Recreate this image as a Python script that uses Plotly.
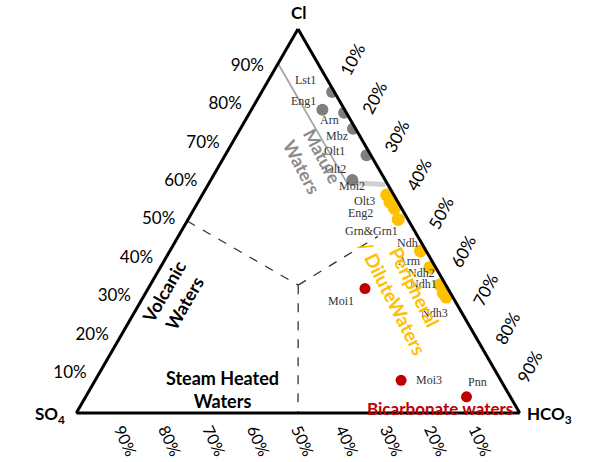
import math
import plotly.graph_objects as go

# ---- Samples (percent of Cl + SO4 + HCO3) ----
mature_names = ["Lst1", "Eng1", "Arn", "Mbz", "Olt1", "Olt2"]
mature_cl = [83.6, 79.0, 78.2, 74.0, 67.1, 60.7]
mature_so4 = [0.5, 5.0, 0.5, 0.6, 1.0, 7.4]
mature_hco3 = [15.9, 16.0, 21.3, 25.4, 31.9, 31.9]

peri_names = ["Moi2", "Olt3", "Eng2", "Grn&Grn1", "Ndh", "Arm", "Ndh2", "Ndh1", "Ndh3"]
peri_cl = [56.8, 54.9, 53.3, 50.4, 42.2, 37.9, 33.4, 31.3, 30.2]
peri_so4 = [1.6, 1.8, 1.6, 2.2, 1.3, 1.3, 1.3, 1.6, 1.5]
peri_hco3 = [41.6, 43.3, 45.1, 47.4, 56.5, 60.8, 65.3, 67.1, 68.3]

bicarb_names = ["Moi1", "Moi3", "Pnn"]
bicarb_cl = [32.4, 8.5, 4.2]
bicarb_so4 = [18.7, 22.5, 9.9]
bicarb_hco3 = [48.9, 69.0, 85.9]

# ---- Field boundaries (Cl, SO4, HCO3) ----
centroid = (33.3, 33.3, 33.4)
volcanic_edge = (50.0, 50.0, 0.0)
steam_edge = (0.0, 50.0, 50.0)
peripheral_end = (46.0, 9.0, 45.0)
mature_boundary_cl = [91.0, 60.0]
mature_boundary_so4 = [9.0, 9.0]
mature_boundary_hco3 = [0.0, 31.0]
mature_cap_cl = [60.0, 59.5]
mature_cap_so4 = [9.0, 0.5]
mature_cap_hco3 = [31.0, 40.0]

tick_vals = [10, 20, 30, 40, 50, 60, 70, 80, 90]
tick_text = [f"{v}%" for v in tick_vals]

# sample-name placement: pixel offset of each name from its marker
mature_label_off = [(-27, -12), (-19, -9), (-15, 7), (-16, 7), (-32, -4), (-17, -11)]
peri_label_off = [(-35, -9), (-26, -1), (-34, 5), (-27, 12), (-13, -8),
                  (-20, -6), (-18, -12), (-20, -9), (-12, 16)]
bicarb_label_off = [(-24, 12), (28, 0), (11, -15)]

# ---- Page / triangle geometry ----
W, H = 591, 462
DOM_X = [0.0085, 1.0]
TRI_TOP, TRI_BOT = 29, 413
DOM_Y = [(H - TRI_BOT) / H, (H - TRI_TOP) / H]
tri_h = TRI_BOT - TRI_TOP
tri_side = tri_h / (math.sqrt(3) / 2)
tri_cx = (DOM_X[0] + DOM_X[1]) / 2 * W
tri_left = tri_cx - tri_side / 2


def tern_to_paper(cl, so4, hco3, dx=0.0, dy=0.0):
    """Ternary point -> paper coords (used only to place text)."""
    s = cl + so4 + hco3
    a, c = cl / s, hco3 / s
    x = tri_left + tri_side * (c + a / 2) + dx
    y = TRI_BOT - tri_h * a + dy
    return x / W, 1 - y / H


def add_text(fig, xy, text, font, angle=0, xanchor="center"):
    fig.add_annotation(x=xy[0], y=xy[1], xref="paper", yref="paper",
                       showarrow=False, text=text, textangle=angle,
                       xanchor=xanchor, yanchor="middle", font=font)


GRAY = "#7f7f7f"
YELLOW = "#FFC000"
RED = "#C00000"
LABEL_FONT = dict(family="Liberation Serif", size=12, color="#333333")

fig = go.Figure()

# dashed field boundaries
for pts in ([volcanic_edge, centroid], [centroid, steam_edge], [centroid, peripheral_end]):
    fig.add_trace(go.Scatterternary(
        a=[p[0] for p in pts], b=[p[1] for p in pts], c=[p[2] for p in pts],
        mode="lines", line=dict(color="#333333", width=1.3, dash="dash"),
        hoverinfo="skip", showlegend=False))

# mature-waters boundary
fig.add_trace(go.Scatterternary(
    a=mature_boundary_cl, b=mature_boundary_so4, c=mature_boundary_hco3,
    mode="lines", line=dict(color="#a6a6a6", width=1.8),
    hoverinfo="skip", showlegend=False))
fig.add_trace(go.Scatterternary(
    a=mature_cap_cl, b=mature_cap_so4, c=mature_cap_hco3,
    mode="lines", line=dict(color="#d0d0d0", width=5),
    hoverinfo="skip", showlegend=False))

groups = [
    (mature_names, mature_cl, mature_so4, mature_hco3, mature_label_off, GRAY, 12),
    (peri_names, peri_cl, peri_so4, peri_hco3, peri_label_off, YELLOW, 13),
    (bicarb_names, bicarb_cl, bicarb_so4, bicarb_hco3, bicarb_label_off, RED, 11),
]
for names, cl, so4, hco3, offs, col, size in groups:
    fig.add_trace(go.Scatterternary(
        a=cl, b=so4, c=hco3, text=names, mode="markers",
        marker=dict(color=col, size=size, line=dict(width=0)),
        hovertemplate="%{text}<extra></extra>", showlegend=False))
    for n, a, b, c, (dx, dy) in zip(names, cl, so4, hco3, offs):
        add_text(fig, tern_to_paper(a, b, c, dx, dy), n, LABEL_FONT)

axis_common = dict(
    tickmode="array", tickvals=tick_vals, ticktext=tick_text,
    showgrid=False, showline=True, linewidth=3, linecolor="black",
    tickcolor="rgba(0,0,0,0)",
    tickfont=dict(family="Lato", size=17, color="black"),
    title=dict(text=""), min=0,
)

fig.update_layout(
    width=W, height=H,
    margin=dict(l=0, r=0, t=0, b=0, pad=0),
    paper_bgcolor="white",
    ternary=dict(
        sum=100,
        domain=dict(x=DOM_X, y=DOM_Y),
        bgcolor="white",
        aaxis=dict(axis_common, tickangle=0, ticks="outside", ticklen=8),
        baxis=dict(axis_common, tickangle=65, ticks="",
                   tickfont=dict(family="Lato", size=16, color="black")),
        caxis=dict(axis_common, tickangle=-62, ticks="",
                   ticktext=["<br>" + t for t in tick_text]),
    ),
)

# corner titles
corner_font = dict(family="Lato", size=17, color="black")
add_text(fig, tern_to_paper(100, 0, 0, dy=-16), "<b>Cl</b>", corner_font)
add_text(fig, tern_to_paper(0, 100, 0, dx=-9, dy=2), "<b>SO<sub>4</sub></b>",
         corner_font, xanchor="right")
add_text(fig, tern_to_paper(0, 0, 100, dx=5, dy=2), "<b>HCO<sub>3</sub></b>",
         corner_font, xanchor="left")

# field names
fields = [
    ((30.0, 63.0, 7.0), "<b>Volcanic<br>Waters</b>", "black", 18, -60),
    ((6.1, 63.9, 30.0), "<b>Steam Heated<br>Waters</b>", "black", 18, 0),
    ((65.5, 14.0, 20.5), "<b>Mature<br>Waters</b>", "#8c8c8c", 18, 62),
    ((31.4, 10.6, 58.0), "<b>Peripheral<br>/ DiluteWaters</b>", YELLOW, 19, 63),
    ((1.3, 17.4, 81.3), "<b>Bicarbonate waters</b>", RED, 17, 0),
]
for (cl, so4, hco3), txt, col, size, ang in fields:
    add_text(fig, tern_to_paper(cl, so4, hco3), txt,
             dict(family="Lato", size=size, color=col), angle=ang)

fig.write_html("out.html")
